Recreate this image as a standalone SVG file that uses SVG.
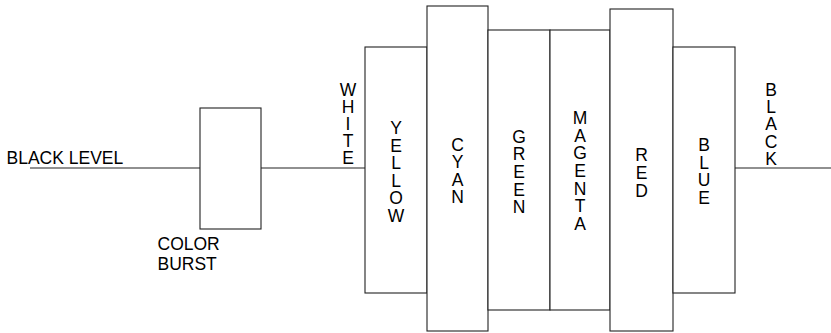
<svg xmlns="http://www.w3.org/2000/svg" width="831" height="333" viewBox="0 0 831 333">
<style>
.b{fill:#fff;stroke:#222;stroke-width:1.1}
.l{stroke:#222;stroke-width:1.1;fill:none}
text{font-family:"Liberation Sans",Arial,sans-serif;font-size:17.5px;fill:#000}
.v{text-anchor:middle}
</style>
<rect width="831" height="333" fill="#fff"/>
<g id="connectors">
<line class="l" x1="30" y1="168" x2="200" y2="168"/>
<line class="l" x1="261" y1="168" x2="365" y2="168"/>
<line class="l" x1="735" y1="168" x2="831" y2="168"/>
</g>
<g id="black-level"><text x="6.5" y="164">BLACK LEVEL</text></g>
<g id="color-burst">
<rect class="b" x="200" y="108" width="61" height="121"/>
<text x="157.5" y="250">COLOR</text>
<text x="157.5" y="269.5">BURST</text>
</g>
<g id="white"><text class="v"><tspan x="348" y="95.5">W</tspan><tspan x="348" dy="17.2">H</tspan><tspan x="348" dy="17.2">I</tspan><tspan x="348" dy="17.2">T</tspan><tspan x="348" dy="17.2">E</tspan></text></g>
<g id="yellow">
<rect class="b" x="365" y="47" width="62" height="246"/>
<text class="v"><tspan x="396" y="134">Y</tspan><tspan x="396" dy="17.5">E</tspan><tspan x="396" dy="17.5">L</tspan><tspan x="396" dy="17.5">L</tspan><tspan x="396" dy="17.5">O</tspan><tspan x="396" dy="17.5">W</tspan></text>
</g>
<g id="cyan">
<rect class="b" x="427" y="6" width="61" height="325"/>
<text class="v"><tspan x="457.5" y="150.8">C</tspan><tspan x="457.5" dy="17.5">Y</tspan><tspan x="457.5" dy="17.5">A</tspan><tspan x="457.5" dy="17.5">N</tspan></text>
</g>
<g id="green">
<rect class="b" x="488" y="30" width="62" height="280"/>
<text class="v"><tspan x="519" y="142.5">G</tspan><tspan x="519" dy="17.7">R</tspan><tspan x="519" dy="17.7">E</tspan><tspan x="519" dy="17.7">E</tspan><tspan x="519" dy="17.7">N</tspan></text>
</g>
<g id="magenta">
<rect class="b" x="550" y="30" width="60" height="280"/>
<text class="v"><tspan x="580" y="124.2">M</tspan><tspan x="580" dy="17.6">A</tspan><tspan x="580" dy="17.6">G</tspan><tspan x="580" dy="17.6">E</tspan><tspan x="580" dy="17.6">N</tspan><tspan x="580" dy="17.6">T</tspan><tspan x="580" dy="17.6">A</tspan></text>
</g>
<g id="red">
<rect class="b" x="610" y="9" width="63" height="322"/>
<text class="v"><tspan x="641.5" y="160.8">R</tspan><tspan x="641.5" dy="17.95">E</tspan><tspan x="641.5" dy="17.95">D</tspan></text>
</g>
<g id="blue">
<rect class="b" x="673" y="47" width="62" height="246"/>
<text class="v"><tspan x="704" y="150.8">B</tspan><tspan x="704" dy="17.7">L</tspan><tspan x="704" dy="17.7">U</tspan><tspan x="704" dy="17.7">E</tspan></text>
</g>
<g id="black"><text class="v"><tspan x="771" y="95.8">B</tspan><tspan x="771" dy="17.3">L</tspan><tspan x="771" dy="17.3">A</tspan><tspan x="771" dy="17.3">C</tspan><tspan x="771" dy="17.3">K</tspan></text></g>
</svg>
